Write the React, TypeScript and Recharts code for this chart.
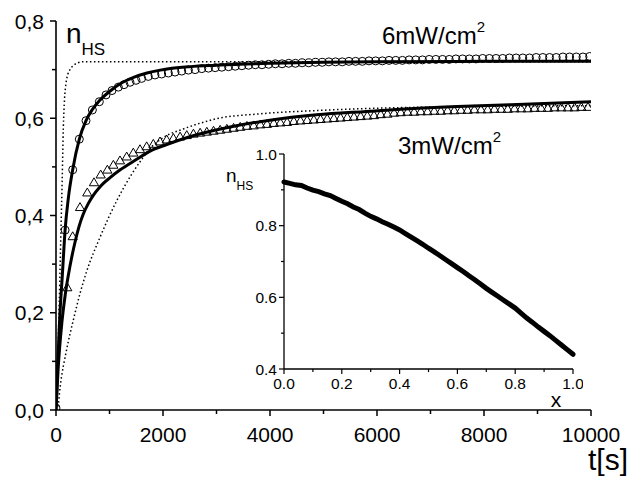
import React from "react"
import { ComposedChart, LineChart, Line, Scatter, XAxis, YAxis } from "recharts"

// 6 mW/cm2 measured points (open circles): [t (s), n_HS]
const circles6: [number, number][] = [
  [0, 0.004], [170, 0.37], [312, 0.494], [436, 0.557], [561, 0.595], [680, 0.617], [810, 0.634],
  [935, 0.648], [1047, 0.657], [1165, 0.664], [1271, 0.669], [1383, 0.674], [1495, 0.678],
  [1601, 0.682], [1725, 0.686], [1850, 0.689], [1975, 0.691], [2100, 0.693], [2225, 0.695],
  [2350, 0.697], [2475, 0.699], [2600, 0.7], [2725, 0.702], [2850, 0.703], [2975, 0.704],
  [3100, 0.705], [3225, 0.706], [3350, 0.707], [3475, 0.708], [3600, 0.709], [3725, 0.71],
  [3850, 0.71], [3975, 0.711], [4100, 0.712], [4225, 0.712], [4350, 0.713], [4475, 0.713],
  [4600, 0.714], [4725, 0.714], [4850, 0.715], [4975, 0.715], [5100, 0.716], [5225, 0.716],
  [5350, 0.716], [5475, 0.717], [5600, 0.717], [5725, 0.717], [5850, 0.718], [5975, 0.718],
  [6100, 0.718], [6225, 0.719], [6350, 0.719], [6475, 0.719], [6600, 0.72], [6725, 0.72],
  [6850, 0.72], [6975, 0.721], [7100, 0.721], [7225, 0.721], [7350, 0.721], [7475, 0.722],
  [7600, 0.722], [7725, 0.722], [7850, 0.722], [7975, 0.723], [8100, 0.723], [8225, 0.723],
  [8350, 0.723], [8475, 0.724], [8600, 0.724], [8725, 0.724], [8850, 0.724], [8975, 0.725],
  [9100, 0.725], [9225, 0.725], [9350, 0.725], [9475, 0.726], [9600, 0.726], [9725, 0.726],
  [9850, 0.726], [9975, 0.727],
]

// 3 mW/cm2 measured points (open triangles)
const triangles3: [number, number][] = [
  [211, 0.252], [312, 0.357], [449, 0.417], [585, 0.447], [710, 0.468], [835, 0.484], [960, 0.494],
  [1072, 0.504], [1196, 0.513], [1321, 0.521], [1445, 0.529], [1570, 0.536], [1695, 0.542],
  [1819, 0.547], [1944, 0.552], [2069, 0.556], [2194, 0.559], [2319, 0.562], [2444, 0.565],
  [2569, 0.568], [2694, 0.57], [2819, 0.572], [2944, 0.574], [3069, 0.576], [3194, 0.578],
  [3319, 0.58], [3444, 0.582], [3569, 0.584], [3694, 0.585], [3819, 0.587], [3944, 0.588],
  [4069, 0.59], [4194, 0.591], [4319, 0.592], [4444, 0.594], [4569, 0.595], [4694, 0.596],
  [4819, 0.597], [4944, 0.598], [5069, 0.599], [5194, 0.6], [5319, 0.601], [5444, 0.602],
  [5569, 0.603], [5694, 0.604], [5819, 0.605], [5944, 0.606], [6069, 0.608], [6194, 0.609],
  [6319, 0.611], [6444, 0.612], [6569, 0.613], [6694, 0.613], [6819, 0.614], [6944, 0.614],
  [7069, 0.615], [7194, 0.615], [7319, 0.616], [7444, 0.616], [7569, 0.617], [7694, 0.617],
  [7819, 0.618], [7944, 0.618], [8069, 0.618], [8194, 0.619], [8319, 0.619], [8444, 0.619],
  [8569, 0.62], [8694, 0.62], [8819, 0.62], [8944, 0.621], [9069, 0.621], [9194, 0.621],
  [9319, 0.622], [9444, 0.622], [9569, 0.622], [9694, 0.622], [9819, 0.623], [9944, 0.623],
]

// model curves (solid = fit, dotted = simple model)
const fit6: [number, number][] = [
  [0, 0], [30, 0.09], [70, 0.19], [120, 0.28], [170, 0.37], [230, 0.435], [312, 0.494],
  [436, 0.557], [561, 0.595], [680, 0.618], [810, 0.636], [1000, 0.655], [1200, 0.671],
  [1450, 0.684], [1700, 0.693], [1950, 0.699], [2500, 0.706], [3000, 0.709], [4000, 0.713],
  [5000, 0.715], [6000, 0.716], [8000, 0.717], [10000, 0.717],
]
const dotted6: [number, number][] = [
  [0, 0], [30, 0.1], [62, 0.226], [95, 0.38], [115, 0.47], [137, 0.58], [160, 0.64], [187, 0.672],
  [220, 0.69], [262, 0.7], [320, 0.708], [386, 0.713], [500, 0.716], [10000, 0.716],
]
const fit3: [number, number][] = [
  [0, 0], [40, 0.085], [110, 0.18], [170, 0.235], [260, 0.295], [355, 0.345], [430, 0.377],
  [510, 0.403], [600, 0.424], [700, 0.442], [800, 0.456], [885, 0.466], [1000, 0.477],
  [1200, 0.494], [1500, 0.515], [1750, 0.532], [2070, 0.546], [2500, 0.562], [3300, 0.583],
  [4000, 0.596], [4870, 0.607], [5800, 0.614], [6370, 0.618], [7500, 0.624], [8500, 0.628],
  [10000, 0.634],
]
const dotted3: [number, number][] = [
  [0, 0], [40, 0.01], [75, 0.045], [200, 0.125], [324, 0.185], [450, 0.24], [573, 0.285],
  [822, 0.355], [1134, 0.43], [1415, 0.485], [1600, 0.515], [1760, 0.538], [2000, 0.56],
  [2380, 0.578], [2700, 0.59], [3000, 0.599], [3800, 0.609], [4900, 0.616], [5800, 0.62],
  [7000, 0.623], [8500, 0.625], [10000, 0.626],
]

// inset: n_HS vs x
const insetX = [
  0, 0.02, 0.04, 0.06, 0.08, 0.1, 0.12, 0.14, 0.16, 0.18, 0.2, 0.22, 0.24, 0.26, 0.28, 0.3, 0.32,
  0.34, 0.36, 0.38, 0.4, 0.42, 0.44, 0.46, 0.48, 0.5, 0.52, 0.54, 0.56, 0.58, 0.6, 0.62, 0.64,
  0.66, 0.68, 0.7, 0.72, 0.74, 0.76, 0.78, 0.8, 0.82, 0.84, 0.86, 0.88, 0.9, 0.92, 0.94, 0.96,
  0.98, 1.0,
]
const insetN = [
  0.922, 0.918, 0.914, 0.912, 0.905, 0.899, 0.895, 0.889, 0.884, 0.876, 0.868, 0.861, 0.852,
  0.845, 0.835, 0.826, 0.819, 0.811, 0.804, 0.796, 0.788, 0.778, 0.768, 0.758, 0.748, 0.737,
  0.727, 0.716, 0.705, 0.694, 0.683, 0.672, 0.66, 0.649, 0.637, 0.625, 0.614, 0.603, 0.592,
  0.581, 0.57, 0.556, 0.542, 0.53, 0.517, 0.505, 0.493, 0.48, 0.467, 0.454, 0.441,
]

const mainXTicks = [0, 1000, 2000, 3000, 4000, 5000, 6000, 7000, 8000, 9000, 10000]
const mainYTicks = [0, 0.1, 0.2, 0.3, 0.4, 0.5, 0.6, 0.7, 0.8]
const insetXTicks = [0, 0.1, 0.2, 0.3, 0.4, 0.5, 0.6, 0.7, 0.8, 0.9, 1.0]
const insetYTicks = [0.4, 0.5, 0.6, 0.7, 0.8, 0.9, 1.0]

const FONT = "'Liberation Sans', Arial, sans-serif"
const toPts = (arr: [number, number][]) => arr.map(([t, v]) => ({ t, v }))

const isMajorTenth = (v: number) => Math.round(v * 10) % 2 === 0

const MainXTick = ({ x, y, payload }: any) => {
  const major = payload.value % 2000 === 0
  return (
    <g>
      <line x1={x} x2={x} y1={y} y2={y + (major ? 6 : 4)} stroke="#000" strokeWidth={1.5} />
      {major && (
        <text x={x} y={y + 32} textAnchor="middle" fontSize={21} fontFamily={FONT} fill="#000">
          {payload.value}
        </text>
      )}
    </g>
  )
}

const MainYTick = ({ x, y, payload }: any) => {
  const major = isMajorTenth(payload.value)
  return (
    <g>
      <line x1={x - (major ? 6 : 4)} x2={x} y1={y} y2={y} stroke="#000" strokeWidth={1.5} />
      {major && (
        <text x={x - 12} y={y + 7.5} textAnchor="end" fontSize={21} fontFamily={FONT} fill="#000">
          {payload.value.toFixed(1).replace(".", ",")}
        </text>
      )}
    </g>
  )
}

const InsetXTick = ({ x, y, payload }: any) => {
  const major = isMajorTenth(payload.value)
  return (
    <g>
      <line x1={x} x2={x} y1={y} y2={y + (major ? 5 : 3)} stroke="#000" strokeWidth={1.2} />
      {major && (
        <text x={x} y={y + 20} textAnchor="middle" fontSize={15.5} fontFamily={FONT} fill="#000">
          {payload.value.toFixed(1)}
        </text>
      )}
    </g>
  )
}

const InsetYTick = ({ x, y, payload }: any) => {
  const major = isMajorTenth(payload.value)
  return (
    <g>
      <line x1={x - (major ? 5 : 3)} x2={x} y1={y} y2={y} stroke="#000" strokeWidth={1.2} />
      {major && (
        <text x={x - 7} y={y + 5.5} textAnchor="end" fontSize={15.5} fontFamily={FONT} fill="#000">
          {payload.value.toFixed(1)}
        </text>
      )}
    </g>
  )
}

const OpenCircle = (p: any) => (
  <circle cx={p.cx} cy={p.cy} r={4} fill="none" stroke="#000" strokeWidth={1} />
)
const OpenTriangle = (p: any) => (
  <polygon
    points={`${p.cx},${p.cy - 4.6} ${p.cx - 4.6},${p.cy + 3.3} ${p.cx + 4.6},${p.cy + 3.3}`}
    fill="none"
    stroke="#000"
    strokeWidth={1}
  />
)

export default function App() {
  const insetData = insetX.map((x, i) => ({ x, n: insetN[i] }))
  return (
    <div style={{ position: "absolute", left: 0, top: 0, width: 635, height: 479, background: "#fff" }}>
      <ComposedChart width={635} height={479} margin={{ top: 21, right: 44, left: 0, bottom: 0 }}>
        <XAxis
          dataKey="t"
          type="number"
          domain={[0, 10000]}
          ticks={mainXTicks}
          height={69}
          tickSize={0}
          tickMargin={0}
          tickLine={false}
          tick={<MainXTick />}
          axisLine={{ stroke: "#000", strokeWidth: 1.6 }}
          allowDataOverflow
        />
        <YAxis
          dataKey="v"
          type="number"
          domain={[0, 0.8]}
          ticks={mainYTicks}
          width={56}
          tickSize={0}
          tickMargin={0}
          tickLine={false}
          tick={<MainYTick />}
          axisLine={{ stroke: "#000", strokeWidth: 1.6 }}
          allowDataOverflow
        />
        <Line data={toPts(dotted6)} dataKey="v" type="monotone" stroke="#000" strokeWidth={1.5}
          strokeDasharray="1.5 2.5" dot={false} isAnimationActive={false} />
        <Line data={toPts(dotted3)} dataKey="v" type="monotone" stroke="#000" strokeWidth={1.5}
          strokeDasharray="1.5 2.5" dot={false} isAnimationActive={false} />
        <Line data={toPts(fit6)} dataKey="v" type="monotone" stroke="#000" strokeWidth={3}
          dot={false} isAnimationActive={false} />
        <Line data={toPts(fit3)} dataKey="v" type="monotone" stroke="#000" strokeWidth={3}
          dot={false} isAnimationActive={false} />
        <Scatter data={toPts(circles6)} dataKey="v" shape={OpenCircle} isAnimationActive={false} />
        <Scatter data={toPts(triangles3)} dataKey="v" shape={OpenTriangle} isAnimationActive={false} />
      </ComposedChart>

      <div style={{ position: "absolute", left: 244, top: 144 }}>
        <LineChart width={339} height={255} data={insetData} margin={{ top: 10, right: 10, left: 0, bottom: 0 }}>
          <XAxis
            dataKey="x"
            type="number"
            domain={[0, 1]}
            ticks={insetXTicks}
            height={30}
            tickSize={0}
            tickMargin={0}
            tickLine={false}
            tick={<InsetXTick />}
            axisLine={{ stroke: "#000", strokeWidth: 1.3 }}
          />
          <YAxis
            type="number"
            domain={[0.4, 1.0]}
            ticks={insetYTicks}
            width={40}
            tickSize={0}
            tickMargin={0}
            tickLine={false}
            tick={<InsetYTick />}
            axisLine={{ stroke: "#000", strokeWidth: 1.3 }}
          />
          <Line dataKey="n" type="linear" stroke="#000" strokeWidth={5} strokeLinecap="round"
            dot={false} isAnimationActive={false} />
        </LineChart>
      </div>

      <svg width={635} height={479} style={{ position: "absolute", left: 0, top: 0, pointerEvents: "none" }}
        fontFamily={FONT} fill="#000">
        <text x={66} y={43} fontSize={28}>
          n<tspan fontSize={17} dy={12}>HS</tspan>
        </text>
        <text x={382} y={44} fontSize={24}>
          6mW/cm<tspan fontSize={15} dy={-12}>2</tspan>
        </text>
        <text x={398} y={154} fontSize={24}>
          3mW/cm<tspan fontSize={15} dy={-12}>2</tspan>
        </text>
        <text x={588} y={470} fontSize={30}>t[s]</text>
        <text x={226} y={182} fontSize={19}>
          n<tspan fontSize={12} dy={8}>HS</tspan>
        </text>
        <text x={556} y={407} fontSize={21} textAnchor="middle">x</text>
      </svg>
    </div>
  )
}
